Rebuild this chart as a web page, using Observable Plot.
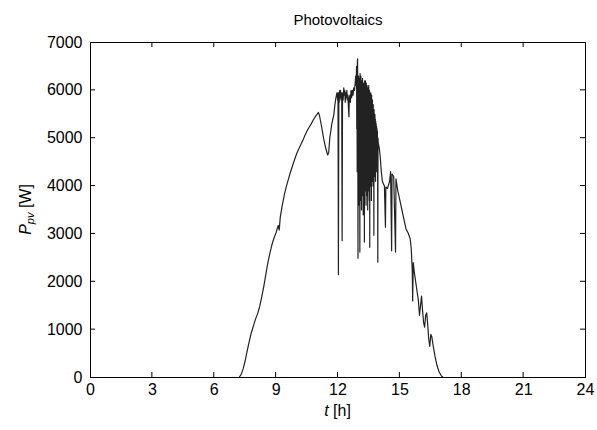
<!DOCTYPE html>
<html><head><meta charset="utf-8">
<script src="https://cdn.jsdelivr.net/npm/d3@7"></script>
<script src="https://cdn.jsdelivr.net/npm/@observablehq/plot@0.6"></script>
<style>body{margin:0;background:#fff;font-family:"Liberation Sans",Arial,sans-serif}</style>
</head><body><div id="chart"></div>
<script>
const title = "Photovoltaics";
const xTicks = [0, 3, 6, 9, 12, 15, 18, 21, 24];
const yTicks = [0, 1000, 2000, 3000, 4000, 5000, 6000, 7000];
const hours = [
  0, 7.2, 7.3, 7.4, 7.5, 7.6, 7.7, 7.8, 7.9, 8.0, 8.1, 8.2, 8.3, 8.4, 8.5, 8.6, 8.7, 8.8, 8.9, 9.0,
  9.1, 9.15, 9.2, 9.3, 9.4, 9.5, 9.6, 9.7, 9.8, 9.9, 10.0, 10.1, 10.2, 10.3, 10.4, 10.5, 10.6, 10.7, 10.8, 10.9,
  11.0, 11.05, 11.1, 11.2, 11.3, 11.4, 11.5, 11.55, 11.6, 11.7, 11.8, 11.85, 11.9, 11.95, 11.98,
  12.0, 12.02, 12.04, 12.06, 12.08, 12.1, 12.12, 12.15, 12.18, 12.2, 12.22, 12.25, 12.28, 12.3, 12.33, 12.35, 12.38,
  12.4, 12.43, 12.45, 12.48, 12.5, 12.53, 12.55, 12.58, 12.6, 12.63, 12.66, 12.7, 12.73, 12.76, 12.8, 12.83, 12.86, 12.88,
  12.9, 12.91, 12.92, 12.93, 12.94, 12.95, 12.96, 12.97, 12.98, 12.99,
  13.0, 13.01, 13.02, 13.03, 13.04, 13.05, 13.06, 13.07, 13.08, 13.09,
  13.1, 13.11, 13.12, 13.13, 13.14, 13.15, 13.16, 13.17, 13.18, 13.19,
  13.2, 13.21, 13.22, 13.23, 13.24, 13.25, 13.26, 13.27, 13.28, 13.29,
  13.3, 13.31, 13.32, 13.33, 13.34, 13.35, 13.36, 13.37, 13.38, 13.39,
  13.4, 13.41, 13.42, 13.43, 13.44, 13.45, 13.46, 13.47, 13.48, 13.49,
  13.5, 13.51, 13.52, 13.53, 13.54, 13.55, 13.56, 13.57, 13.58, 13.59,
  13.6, 13.61, 13.62, 13.63, 13.64, 13.65, 13.66, 13.67, 13.68, 13.69,
  13.7, 13.71, 13.72, 13.73, 13.74, 13.75, 13.76, 13.77, 13.78, 13.79,
  13.8, 13.81, 13.82, 13.83, 13.84, 13.85, 13.86, 13.87, 13.88, 13.89,
  13.9, 13.91, 13.92, 13.93, 13.94, 13.95,
  14.0, 14.05, 14.1, 14.15, 14.2, 14.25, 14.3, 14.32, 14.4, 14.5, 14.55, 14.6, 14.62, 14.7, 14.79, 14.81, 14.9,
  15.0, 15.1, 15.2, 15.3, 15.4, 15.5, 15.55, 15.6, 15.62, 15.65, 15.7, 15.8, 15.85, 15.9, 15.95,
  16.0, 16.05, 16.1, 16.15, 16.2, 16.25, 16.3, 16.35, 16.4, 16.45, 16.5, 16.55, 16.6, 16.7, 16.8, 16.9, 17.0, 17.1, 24
];
const power = [
  0, 0, 60, 180, 350, 560, 760, 940, 1080, 1220, 1330, 1480, 1680, 1900, 2150, 2400, 2600, 2780, 2920, 3030,
  3180, 3080, 3350, 3600, 3820, 4000, 4150, 4300, 4430, 4560, 4680, 4780, 4870, 4960, 5060, 5150, 5230, 5300, 5380, 5450,
  5510, 5540, 5480, 5250, 5000, 4800, 4650, 4700, 5000, 5300, 5500, 5700, 5850, 5950, 5800,
  5950, 2150, 5950, 5750, 6000, 5850, 6000, 5800, 5950, 2860, 5950, 5800, 6050, 5900, 6000, 5750, 5950,
  5850, 6000, 5800, 5900, 5700, 5450, 5850, 5900, 5750, 6000, 5850, 6000, 5900, 6050, 6000, 6150, 6300, 6100,
  6500, 5200, 6400, 4300, 6600, 6660, 5000, 2490, 6200, 3900,
  6300, 4500, 6250, 3600, 6100, 4800, 2620, 6350, 4200, 6000,
  3700, 6300, 5000, 6100, 3500, 6200, 4400, 5900, 3800, 6250,
  4600, 6000, 3400, 6150, 4900, 5800, 3700, 6100, 2830, 6200,
  4300, 5950, 3900, 6200, 4700, 6000, 3600, 6150, 4500, 5900,
  3800, 6100, 5000, 5900, 3500, 6050, 4400, 5800, 3900, 6100,
  4600, 5900, 3700, 6000, 2720, 5900, 4500, 5850, 4000, 5950,
  4800, 5800, 3700, 5900, 4600, 5750, 4100, 5800, 5000, 5650,
  4000, 5700, 4700, 5600, 2970, 5600, 4500, 5500, 4200, 5500,
  4800, 5400, 4100, 5350, 4600, 5300, 4300, 5250, 4700, 5200,
  4500, 5150, 4700, 2410, 5000, 4900,
  4800, 4600, 4300, 4100, 4050, 4000, 3140, 3980, 3950, 4100, 4300, 2650, 4250, 4200, 2620, 4150, 3900,
  3700, 3500, 3300, 3100, 3020, 2900, 2700, 2250, 1600, 2400, 2200, 1900, 1750, 1600, 1300,
  1500, 1700, 1400, 1150, 1050, 1300, 1350, 1100, 800, 650, 900, 850, 700, 450, 250, 120, 40, 0, 0
];
const data = hours.map((t, i) => ({t, p: power[i]}));
const plot = Plot.plot({
  width: 597, height: 430,
  marginLeft: 90, marginRight: 12, marginTop: 42, marginBottom: 53,
  style: {fontFamily: "'Liberation Sans', Arial, sans-serif", fontSize: "16px", color: "#000", background: "#fff", overflow: "visible"},
  x: {domain: [0, 24], ticks: xTicks, tickSize: 0, tickPadding: 6, label: null},
  y: {domain: [0, 7000], ticks: yTicks, tickSize: 0, tickPadding: 8, tickFormat: d3.format("d"), label: null},
  marks: [
    Plot.line(data, {x: "t", y: "p", stroke: "#222", strokeWidth: 1.2}),
    Plot.frame({stroke: "#000", strokeWidth: 1}),
    Plot.text([title], {frameAnchor: "top", dy: -28, fontSize: 15})
  ]
});
const svg = d3.select(plot);
const sx = plot.scale("x"), sy = plot.scale("y");
const [x0, x1] = sx.range, [y0, y1] = sy.range;
const tl = 5;
const tg = svg.append("g").attr("stroke", "#000").attr("stroke-width", 1);
xTicks.slice(1, -1).forEach(v => {
  const x = sx.apply(v);
  tg.append("line").attr("x1", x).attr("x2", x).attr("y1", y0).attr("y2", y0 - tl);
  tg.append("line").attr("x1", x).attr("x2", x).attr("y1", y1).attr("y2", y1 + tl);
});
yTicks.slice(1, -1).forEach(v => {
  const y = sy.apply(v);
  tg.append("line").attr("y1", y).attr("y2", y).attr("x1", x0).attr("x2", x0 + tl);
  tg.append("line").attr("y1", y).attr("y2", y).attr("x1", x1).attr("x2", x1 - tl);
});
const cx = (x0 + x1) / 2;
const xl = svg.append("text").attr("x", cx).attr("y", 416).attr("text-anchor", "middle").attr("font-size", 16).attr("fill", "#000");
xl.append("tspan").attr("font-style", "italic").text("t");
xl.append("tspan").text(" [h]");
const yl = svg.append("text").attr("transform", `translate(31,${(y0 + y1) / 2}) rotate(-90)`).attr("text-anchor", "middle").attr("font-size", 16).attr("fill", "#000");
yl.append("tspan").attr("font-style", "italic").text("P");
yl.append("tspan").attr("font-style", "italic").attr("font-size", 11).attr("dy", 3).text("pv");
yl.append("tspan").attr("dy", -3).text(" [W]");
document.getElementById("chart").appendChild(plot);
</script>
</body></html>
